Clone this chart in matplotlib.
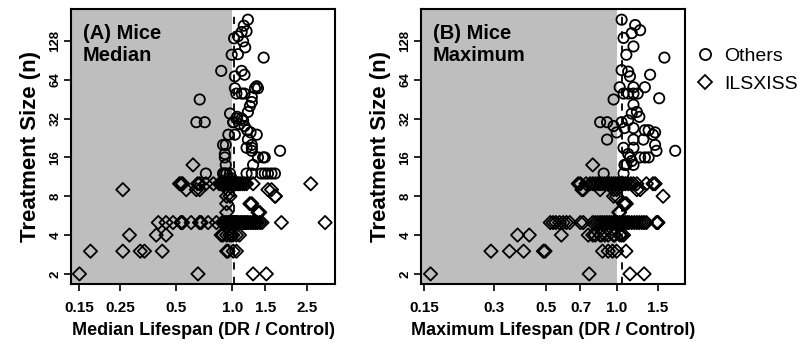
import matplotlib
matplotlib.use("Agg")
import matplotlib.pyplot as plt
from matplotlib.lines import Line2D
from matplotlib.ticker import FixedLocator, NullLocator

plt.rcParams['font.family'] = ['Liberation Sans', 'DejaVu Sans']

# ---------------- data: panel A (median lifespan) ----------------
a_oth_x = [1.21, 1.15, 1.19, 1.12, 1.07, 1.02, 1.14, 1.17, 1.07, 0.99, 1.47, 0.87, 1.12, 1.16, 1.03,
           1.03, 1.05, 1.12, 1.16, 1.35, 1.32, 1.37, 1.27, 1.27, 1.24, 1.21, 0.667, 0.64, 0.71,
           0.97, 1.01, 1.05, 1.14, 1.06, 1.12, 1.01, 1.09, 1.16, 1.20, 1.25, 1.35, 0.95, 1.03,
           0.92, 1.21, 1.19, 1.27, 0.91, 1.27, 1.49, 1.80, 0.92, 1.29, 0.91, 1.37, 1.46, 0.89, 1.27,
           0.72, 0.89, 0.91, 0.93, 0.97, 1.19, 1.27, 1.43, 1.49, 1.55, 1.62, 1.69, 0.95, 0.99]
a_oth_n = [187, 168, 152, 150, 139, 134, 127, 114, 101, 100, 95, 75, 75, 70, 68,
           55, 50, 50, 50, 57, 55, 55, 47, 43, 40, 36, 45, 30, 30,
           35, 30, 32, 31, 33, 32, 30, 29, 28, 26, 25, 24, 24, 24,
           20, 22, 19, 19, 17, 18, 16, 18, 14, 14, 16, 16, 16, 20, 20,
           12, 12, 12, 12, 12, 12, 12, 12, 12, 12, 12, 12, 11, 11]

a_ils_x = [0.151, 0.653, 1.29, 1.52,
           0.173, 0.258, 0.32, 0.337, 0.42, 0.93, 0.947, 1.01, 1.05,
           0.28, 0.39, 0.44, 0.87, 0.89, 0.93, 0.967, 0.99, 1.007, 1.05, 1.09,
           0.40, 0.44, 0.48, 0.53, 0.53, 0.54, 0.60, 0.667, 0.667, 0.68, 0.74, 0.82, 0.88, 0.90,
           0.92, 0.93, 0.95, 0.96, 0.97, 0.98, 0.99, 1.00, 1.01, 1.02, 1.03, 1.04, 1.05, 1.06,
           1.08, 1.10, 1.12, 1.14, 1.16, 1.18, 1.20, 1.22, 1.25, 1.28, 1.30, 1.33, 1.36, 1.40,
           1.44, 1.83, 3.14,
           1.40, 0.93, 1.37,
           1.27, 0.93, 1.24,
           0.93, 1.70, 0.97, 1.69,
           0.258, 0.565, 0.667, 1.62, 0.64, 0.94, 1.55,
           0.52, 0.53, 0.54, 0.65, 0.667, 0.72, 0.79, 0.85, 0.87, 0.89, 0.91, 0.93, 0.95,
           0.97, 0.99, 1.00, 1.02, 1.04, 1.06, 1.08, 1.10, 1.13, 1.16, 1.19, 1.29, 2.63,
           0.614]
a_ils_n = [2, 2, 2, 2,
           3, 3, 3, 3, 3, 3, 3, 3, 3,
           4, 4, 4, 4, 4, 4, 4, 4, 4, 4, 4,
           5, 5, 5, 5, 5, 5, 5, 5, 5, 5, 5, 5, 5, 5,
           5, 5, 5, 5, 5, 5, 5, 5, 5, 5, 5, 5, 5, 5,
           5, 5, 5, 5, 5, 5, 5, 5, 5, 5, 5, 5, 5, 5,
           5, 5, 5,
           6, 6, 6,
           7, 7, 7,
           8, 8, 8, 8,
           9, 9, 9, 9, 9, 9, 9,
           10, 10, 10, 10, 10, 10, 10, 10, 10, 10, 10, 10, 10,
           10, 10, 10, 10, 10, 10, 10, 10, 10, 10, 10, 10, 10,
           14]

# ---------------- data: panel B (maximum lifespan) ----------------
b_oth_x = [1.05, 1.20, 1.26, 1.16, 1.07, 1.18, 1.10, 1.60, 1.05, 1.12, 1.14, 1.39,
           1.03, 1.18, 1.32, 1.07, 1.12, 1.18, 1.23, 0.97, 1.52, 1.18, 1.22, 1.16, 1.25,
           0.85, 0.91, 1.05, 1.12, 0.97, 1.08, 1.18, 1.37, 1.46, 1.32, 1.43, 0.91, 1.00,
           1.18, 1.30, 1.46, 1.07, 1.18, 1.48, 1.78, 1.12, 1.14, 1.26, 1.32, 1.37,
           1.08, 1.10, 1.16, 1.18, 0.88, 1.07]
b_oth_n = [187, 170, 155, 147, 135, 116, 100, 95, 76, 74, 68, 70,
           56, 56, 56, 50, 50, 50, 50, 45, 46, 41, 36, 35, 33,
           30, 30, 30, 31, 28, 27, 27, 26, 25, 26, 24, 22, 25,
           22, 22, 20, 19, 19, 18, 18, 17, 16, 16, 16, 16,
           14, 14, 15, 14, 12, 12]

b_ils_x = [0.160, 0.763, 1.14, 1.31,
           0.29, 0.348, 0.40, 0.486, 0.494, 0.87, 0.92, 0.96, 1.00, 1.096,
           0.377, 0.423, 0.58, 0.756, 0.79, 0.81, 0.85, 0.86, 0.89, 0.92, 0.97, 0.98, 1.03,
           1.05, 1.07,
           0.52, 0.535, 0.55, 0.57, 0.59, 0.61, 0.63, 0.70, 0.72, 0.79, 0.81, 0.83, 0.85,
           0.87, 0.89, 0.91, 0.93, 0.95, 0.97, 0.99, 1.01, 1.03, 1.05, 1.07, 1.09, 1.11,
           1.13, 1.16, 1.19, 1.22, 1.25, 1.28, 1.31, 1.34, 1.48, 1.50, 1.50,
           1.02, 1.03,
           1.085, 1.07, 1.10,
           1.58, 0.97, 1.00,
           0.71, 0.72, 0.85, 1.00, 1.22, 1.26, 0.97,
           0.685, 0.70, 0.74, 0.77, 0.79, 0.81, 0.83, 0.85, 0.87, 0.89, 0.91, 0.93, 0.95,
           0.97, 0.99, 1.01, 1.03, 1.05, 1.07, 1.09, 1.12, 1.15, 1.18, 1.22, 1.34, 1.43, 1.46,
           0.79]
b_ils_n = [2, 2, 2, 2,
           3, 3, 3, 3, 3, 3, 3, 3, 3, 3,
           4, 4, 4, 4, 4, 4, 4, 4, 4, 4, 4, 4, 4,
           4, 4,
           5, 5, 5, 5, 5, 5, 5, 5, 5, 5, 5, 5, 5,
           5, 5, 5, 5, 5, 5, 5, 5, 5, 5, 5, 5, 5,
           5, 5, 5, 5, 5, 5, 5, 5, 5, 5, 5,
           6, 6,
           7, 7, 7,
           8, 8, 8,
           9, 9, 9, 9, 9, 9, 9,
           10, 10, 10, 10, 10, 10, 10, 10, 10, 10, 10, 10, 10,
           10, 10, 10, 10, 10, 10, 10, 10, 10, 10, 10, 10, 10, 10,
           14]

y_ticks = [2, 4, 8, 16, 32, 64, 128]
a_ticks = [0.15, 0.25, 0.5, 1.0, 1.5, 2.5]
a_tick_labels = ["0.15", "0.25", "0.5", "1.0", "1.5", "2.5"]
b_ticks = [0.15, 0.3, 0.5, 0.7, 1.0, 1.5]
b_tick_labels = ["0.15", "0.3", "0.5", "0.7", "1.0", "1.5"]


def draw_panel(ax, oth_x, oth_n, ils_x, ils_n, ticks, labels, xlim, vline, title, xlabel):
    ax.set_xscale("log")
    ax.set_yscale("log", base=2)
    ax.axvspan(xlim[0], 1.0, color="#bebebe", lw=0, zorder=0)
    ax.axvline(vline, color="black", ls=(0, (4, 4)), lw=1.3, zorder=1)
    ax.scatter(oth_x, oth_n, s=55, marker="o", facecolors="none",
               edgecolors="black", linewidths=1.3, zorder=2)
    ax.scatter(ils_x, ils_n, s=46, marker="D", facecolors="none",
               edgecolors="black", linewidths=1.3, zorder=2)
    ax.set_xlim(xlim)
    ax.set_ylim(1.67, 225)
    ax.xaxis.set_major_locator(FixedLocator(ticks))
    ax.xaxis.set_minor_locator(NullLocator())
    ax.yaxis.set_major_locator(FixedLocator(y_ticks))
    ax.yaxis.set_minor_locator(NullLocator())
    ax.set_xticklabels(labels, fontsize=11, fontweight="bold")
    ax.set_yticklabels([str(v) for v in y_ticks], fontsize=9.5, fontweight="bold",
                       rotation=90, va="center")
    ax.tick_params(axis="both", direction="out", length=5, width=1.2, color="black")
    ax.tick_params(axis="x", pad=7)
    ax.tick_params(axis="y", pad=2)
    for sp in ax.spines.values():
        sp.set_linewidth(1.5)
    ax.set_xlabel(xlabel, fontsize=13, fontweight="bold", labelpad=5)
    ax.set_ylabel("Treatment Size (n)", fontsize=16, fontweight="bold", labelpad=6)
    ax.text(0.045, 0.945, title, transform=ax.transAxes, ha="left", va="top",
            fontsize=14.5, fontweight="bold", linespacing=1.2)


fig = plt.figure(figsize=(8.04, 3.45), dpi=100)
axA = fig.add_axes([0.0883, 0.1768, 0.3284, 0.7962])
axB = fig.add_axes([0.5236, 0.1768, 0.3284, 0.7962])

draw_panel(axA, a_oth_x, a_oth_n, a_ils_x, a_ils_n, a_ticks, a_tick_labels,
           (0.136, 3.55), 1.02, "(A) Mice\nMedian", "Median Lifespan (DR / Control)")
draw_panel(axB, b_oth_x, b_oth_n, b_ils_x, b_ils_n, b_ticks, b_tick_labels,
           (0.1456, 1.96), 1.05, "(B) Mice\nMaximum", "Maximum Lifespan (DR / Control)")

handles = [
    Line2D([], [], ls="none", marker="o", ms=8, mfc="none", mec="black", mew=1.3),
    Line2D([], [], ls="none", marker="D", ms=7, mfc="none", mec="black", mew=1.3),
]
fig.legend(handles, ["Others", "ILSXISS"], loc="upper left", bbox_to_anchor=(0.857, 0.88),
           frameon=False, fontsize=14, handlelength=1.0, handletextpad=0.5,
           labelspacing=0.55, borderaxespad=0, borderpad=0.3)

fig.savefig("out.png", dpi=100)
